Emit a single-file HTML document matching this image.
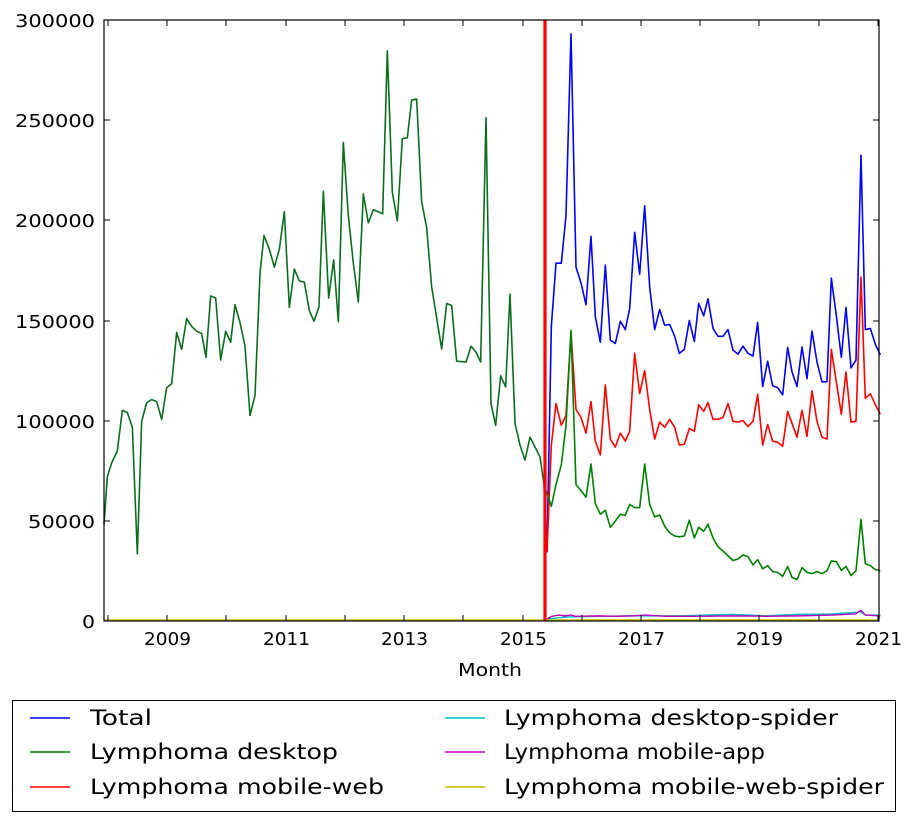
<!DOCTYPE html>
<html><head><meta charset="utf-8"><style>
body{margin:0;background:#fff;}
svg{display:block;font-family:"DejaVu Sans","Liberation Sans",sans-serif;}
</style></head><body>
<svg width="908" height="818" viewBox="0 0 908 818" xmlns="http://www.w3.org/2000/svg">
<rect width="908" height="818" fill="#fff"/>
<g fill="none" stroke-linejoin="round">
<g transform="matrix(0.33333,0,0,0.3954,90,10.115)">
<polyline vector-effect="non-scaling-stroke" stroke="#0a6e1e" stroke-width="1.6" points="42,1300 52,1180 65,1145 82,1115 97,1012 112,1018 127,1055 142,1375 155,1040 170,993 185,985 200,990 215,1035 230,955 245,945 260,815 275,858 290,780 305,800 320,812 335,818 348,878 362,723 377,728 392,885 407,812 422,840 435,745 450,790 465,850 480,1025 495,975 510,665 522,570 538,605 553,650 568,605 583,510 598,752 613,655 628,685 643,688 658,760 672,787 687,750 700,458 716,728 731,632 745,788 760,335 775,520 790,640 805,738 820,465 835,538 850,505 865,510 878,515 892,103 907,460 922,533 937,325 952,323 965,227 980,225 995,485 1010,550 1025,700 1055,857 1070,742 1085,747 1100,888 1128,890 1143,850 1158,865 1172,890 1188,272 1203,995 1217,1050 1232,925 1247,953 1260,718 1275,1045 1290,1100 1305,1138 1320,1080 1350,1130 1362,1200"/>
</g>
<g transform="matrix(0.33333,0,0,0.3954,532,10.115)">
<polyline vector-effect="non-scaling-stroke" stroke="#0000ff" stroke-width="1.6" points="36,1200 45,1370 58,800 72,640 88,640 102,520 117,60 132,650 147,690 162,745 177,572 190,775 205,840 220,645 235,835 250,843 265,787 280,808 293,755 308,562 323,668 338,495 353,700 368,808 383,757 398,797 413,795 428,825 442,868 457,858 472,785 487,838 500,742 515,773 528,730 543,805 558,825 573,825 588,808 603,860 618,870 633,850 648,868 663,875 677,790 692,952 707,888 722,950 737,955 752,973 767,853 780,915 795,952 810,852 825,932 840,812 855,890 870,940 885,940 898,678 913,773 928,878 942,752 957,905 972,885 987,367 1000,808 1015,805 1030,845 1045,872"/>
<polyline vector-effect="non-scaling-stroke" stroke="#ff0000" stroke-width="1.6" points="45,1370 58,1100 72,995 88,1050 102,1025 117,815 132,1010 147,1030 162,1070 177,990 190,1090 205,1125 220,948 235,1085 250,1105 265,1070 280,1090 293,1065 308,868 323,970 338,912 353,1010 368,1085 383,1042 398,1055 413,1035 428,1055 442,1100 457,1098 472,1058 487,1065 500,998 515,1015 528,993 543,1035 558,1035 573,1030 588,995 603,1040 618,1042 633,1038 648,1053 663,1040 677,972 692,1100 707,1048 722,1090 737,1093 752,1103 767,1015 780,1045 795,1080 810,1012 825,1078 840,963 855,1040 870,1080 885,1085 898,858 913,940 928,1022 942,915 957,1042 972,1040 987,675 1000,982 1015,970 1030,998 1045,1022"/>
<polyline vector-effect="non-scaling-stroke" stroke="#008000" stroke-width="1.6" points="36,1200 58,1255 72,1200 88,1150 102,1050 117,810 132,1200 147,1215 162,1232 177,1148 190,1248 205,1275 220,1265 235,1308 250,1292 265,1275 280,1278 293,1250 308,1258 323,1258 338,1148 353,1250 368,1282 383,1277 398,1305 413,1322 428,1330 442,1332 457,1330 472,1290 487,1335 500,1308 515,1318 528,1300 543,1335 558,1357 573,1368 588,1380 603,1392 618,1388 633,1378 648,1382 663,1403 677,1390 692,1413 707,1405 722,1420 737,1422 752,1432 767,1407 780,1435 795,1440 810,1410 825,1422 840,1425 855,1420 870,1425 885,1418 898,1393 913,1395 928,1417 942,1407 957,1430 972,1418 987,1288 1000,1400 1015,1405 1030,1415 1045,1418"/>
<polyline vector-effect="non-scaling-stroke" stroke="#00bfbf" stroke-width="1.4" points="45,1540 100,1535 200,1533 300,1532 450,1532 600,1528 700,1532 800,1528 900,1527 987,1522 1000,1530 1045,1530"/>
<polyline vector-effect="non-scaling-stroke" stroke="#bf00bf" stroke-width="1.4" points="45,1540 60,1533 80,1530 100,1532 117,1530 130,1533 200,1532 250,1533 300,1532 340,1530 400,1533 500,1533 600,1532 700,1533 800,1532 900,1530 970,1527 987,1518 1000,1530 1045,1532"/>
</g>
<polyline stroke="#bfbf00" stroke-width="1.4" points="104,620 879,620"/>
</g>
<line x1="545" y1="20" x2="545" y2="621" stroke="#ff0000" stroke-width="3.2"/>
<rect x="104" y="20" width="775" height="601" fill="none" stroke="#000" stroke-width="1.2"/>
<g stroke="#000" stroke-width="1">
<path d="M104 521h6M104 421h6M104 321h6M104 220h6M104 120h6M879 521h-6M879 421h-6M879 321h-6M879 220h-6M879 120h-6"/>
<path d="M108 621v-6M167 621v-6M226 621v-6M286 621v-6M345 621v-6M404 621v-6M463 621v-6M523 621v-6M582 621v-6M641 621v-6M700 621v-6M759 621v-6M819 621v-6M878 621v-6"/>
<path d="M108 20v6M167 20v6M226 20v6M286 20v6M345 20v6M404 20v6M463 20v6M523 20v6M582 20v6M641 20v6M700 20v6M759 20v6M819 20v6M878 20v6"/>
</g>
<g font-size="18" fill="#000" lengthAdjust="spacingAndGlyphs">
<text x="15" y="27" textLength="80" lengthAdjust="spacingAndGlyphs">300000</text>
<text x="15" y="127" textLength="80" lengthAdjust="spacingAndGlyphs">250000</text>
<text x="15" y="227" textLength="80" lengthAdjust="spacingAndGlyphs">200000</text>
<text x="15" y="328" textLength="80" lengthAdjust="spacingAndGlyphs">150000</text>
<text x="15" y="428" textLength="80" lengthAdjust="spacingAndGlyphs">100000</text>
<text x="28" y="528" textLength="67" lengthAdjust="spacingAndGlyphs">50000</text>
<text x="82" y="628" textLength="13" lengthAdjust="spacingAndGlyphs">0</text>
<text x="144" y="645" textLength="47" lengthAdjust="spacingAndGlyphs">2009</text>
<text x="263" y="645" textLength="47" lengthAdjust="spacingAndGlyphs">2011</text>
<text x="381" y="645" textLength="47" lengthAdjust="spacingAndGlyphs">2013</text>
<text x="500" y="645" textLength="47" lengthAdjust="spacingAndGlyphs">2015</text>
<text x="618" y="645" textLength="47" lengthAdjust="spacingAndGlyphs">2017</text>
<text x="736" y="645" textLength="47" lengthAdjust="spacingAndGlyphs">2019</text>
<text x="855" y="645" textLength="47" lengthAdjust="spacingAndGlyphs">2021</text>
<text x="458" y="676" textLength="64" lengthAdjust="spacingAndGlyphs">Month</text>
</g>
<rect x="12.5" y="700.5" width="883" height="111" fill="#fff" stroke="#000" stroke-width="1"/>
<g stroke-width="1.6">
<line x1="30" y1="718" x2="70" y2="718" stroke="#0000ff"/>
<line x1="30" y1="752" x2="70" y2="752" stroke="#008000"/>
<line x1="30" y1="787" x2="70" y2="787" stroke="#ff0000"/>
<line x1="445" y1="718" x2="485" y2="718" stroke="#00bfbf"/>
<line x1="445" y1="752" x2="485" y2="752" stroke="#bf00bf"/>
<line x1="445" y1="787" x2="485" y2="787" stroke="#bfbf00"/>
</g>
<g font-size="21" fill="#000">
<text x="90" y="725" textLength="62" lengthAdjust="spacingAndGlyphs">Total</text>
<text x="90" y="759" textLength="248" lengthAdjust="spacingAndGlyphs">Lymphoma desktop</text>
<text x="90" y="794" textLength="294" lengthAdjust="spacingAndGlyphs">Lymphoma mobile-web</text>
<text x="504" y="725" textLength="334" lengthAdjust="spacingAndGlyphs">Lymphoma desktop-spider</text>
<text x="504" y="759" textLength="261" lengthAdjust="spacingAndGlyphs">Lymphoma mobile-app</text>
<text x="504" y="794" textLength="380" lengthAdjust="spacingAndGlyphs">Lymphoma mobile-web-spider</text>
</g>
</svg>
</body></html>
